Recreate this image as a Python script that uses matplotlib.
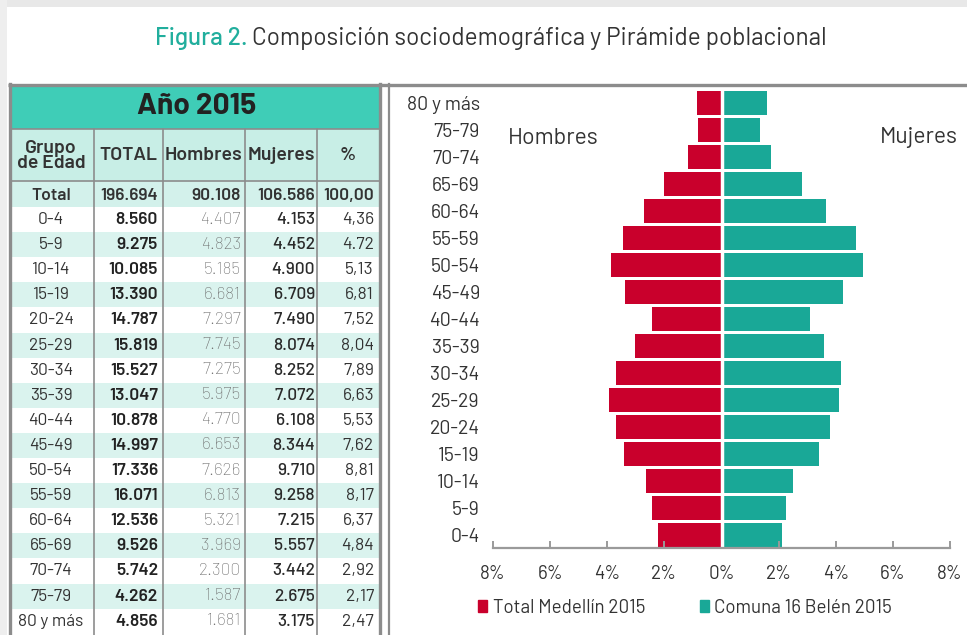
import matplotlib
matplotlib.use('Agg')
import matplotlib.pyplot as plt
from matplotlib.patches import Rectangle, Patch

plt.rcParams['font.family'] = ['Barlow', 'Barlow Semi Condensed', 'DejaVu Sans']

# datos de la tabla
grupos = ['0-4', '5-9', '10-14', '15-19', '20-24', '25-29', '30-34', '35-39', '40-44',
          '45-49', '50-54', '55-59', '60-64', '65-69', '70-74', '75-79', '80 y más']
total = [8560, 9275, 10085, 13390, 14787, 15819, 15527, 13047, 10878,
         14997, 17336, 16071, 12536, 9526, 5742, 4262, 4856]
hombres = [4407, 4823, 5185, 6681, 7297, 7745, 7275, 5975, 4770,
           6653, 7626, 6813, 5321, 3969, 2300, 1587, 1681]
mujeres = [4153, 4452, 4900, 6709, 7490, 8074, 8252, 7072, 6108,
           8344, 9710, 9258, 7215, 5557, 3442, 2675, 3175]
pct = ['4,36', '4.72', '5,13', '6,81', '7,52', '8,04', '7,89', '6,63', '5,53',
       '7,62', '8,81', '8,17', '6,37', '4,84', '2,92', '2,17', '2,47']
fila_total = ['Total', '196.694', '90.108', '106.586', '100,00']
encabezados = ['Grupo\nde Edad', 'TOTAL', 'Hombres', 'Mujeres', '%']

# datos de la pirámide (% del total)
pir_medellin = [2.24, 2.45, 2.64, 3.40, 3.71, 3.94, 3.70, 3.04, 2.43,
                3.38, 3.88, 3.46, 2.71, 2.02, 1.17, 0.81, 0.85]
pir_belen = [2.11, 2.26, 2.49, 3.41, 3.81, 4.10, 4.20, 3.60, 3.11,
             4.24, 4.94, 4.71, 3.67, 2.83, 1.75, 1.36, 1.61]
xticks = [-8, -6, -4, -2, 0, 2, 4, 6, 8]

ROJO = '#c9002c'
VERDE = '#19a897'
TEAL = '#3fcdb7'
GRIS = '#8c8c8c'
TXT = '#333333'


def fmt(v):
    return f'{v:,}'.replace(',', '.')


fig = plt.figure(figsize=(9.67, 6.35), dpi=100)
bg = fig.add_axes([0, 0, 1, 1], zorder=0)
bg.set_xlim(0, 967)
bg.set_ylim(635, 0)
bg.axis('off')

# marco
bg.add_patch(Rectangle((0, 0), 967, 7, color='#e8e8e8', lw=0))
bg.add_patch(Rectangle((0, 0), 7, 635, color='#eeeeee', lw=0))
bg.plot([8, 967], [84.5, 84.5], color=GRIS, lw=2.4, solid_capstyle='butt')
bg.plot([9.5, 9.5], [84, 635], color=GRIS, lw=2.4)
bg.plot([380, 380], [84, 635], color=GRIS, lw=2.4)
bg.plot([389, 389], [84, 635], color=GRIS, lw=1.6)

# titulo
t1 = bg.text(155, 45, 'Figura 2.', color='#21ae9d', fontsize=17.5, weight='medium', va='baseline')
bg.annotate('Composición sociodemográfica y Pirámide poblacional', xy=(1, 0), xycoords=t1,
            xytext=(3.5, 0), textcoords='offset points', va='bottom', ha='left',
            fontsize=17.5, color=TXT)

# tabla
bg.add_patch(Rectangle((11, 86), 368, 43, color=TEAL, lw=0))
bg.text(197, 107, 'Año 2015', ha='center', va='center', fontsize=21.5, weight='bold', color='#222222')
bg.add_patch(Rectangle((11, 129), 368, 52, color='#c8eee6', lw=0))
bg.add_patch(Rectangle((11, 181), 368, 26, color='#d3f1eb', lw=0))
h = 25.1
y0 = 207
for i in range(len(grupos)):
    if i % 2 == 1:
        bg.add_patch(Rectangle((11, y0 + i * h), 368, h, color='#daf3ee', lw=0))

bg.plot([11, 379], [129, 129], color=GRIS, lw=1.2)
bg.plot([11, 379], [181, 181], color=GRIS, lw=1.2)
for xc in [94, 163, 245, 317]:
    bg.plot([xc, xc], [129, 635], color=GRIS, lw=1.2)

centros = [51, 128, 204, 281, 348]
for c, e in zip(centros, encabezados):
    bg.text(c, 156, e, ha='center', va='center', fontsize=14, weight='semibold', color=TXT,
            linespacing=0.9)

derechas = [158, 241, 315, 374]
bg.text(centros[0], 195, fila_total[0], ha='center', va='center', fontsize=12.5, weight='semibold', color=TXT)
for x, v in zip(derechas, fila_total[1:]):
    bg.text(x, 195, v, ha='right', va='center', fontsize=12.5, weight='semibold', color=TXT)

for i, g in enumerate(grupos):
    yc = y0 + i * h + h / 2
    bg.text(centros[0], yc, g, ha='center', va='center', fontsize=12.5, color=TXT)
    bg.text(derechas[0], yc, fmt(total[i]), ha='right', va='center', fontsize=12.5,
            weight='semibold', color='#222222')
    bg.text(derechas[1], yc, fmt(hombres[i]), ha='right', va='center', fontsize=12.5,
            weight='light', color='#6a6a6a')
    bg.text(derechas[2], yc, fmt(mujeres[i]), ha='right', va='center', fontsize=12.5,
            weight='medium', color='#2a2a2a')
    bg.text(derechas[3], yc, pct[i], ha='right', va='center', fontsize=12.5, color=TXT)

# piramide
ax = fig.add_axes([493 / 967, 1 - 548 / 635, 457 / 967, (548 - 89.5) / 635], zorder=2)
ax.patch.set_alpha(0)
pos = list(range(len(grupos)))
ax.barh(pos, [-v for v in pir_medellin], height=0.9, color=ROJO)
ax.barh(pos, pir_belen, height=0.9, color=VERDE)
ax.axvline(0, color='white', lw=2.5)
ax.set_xlim(-8, 8)
ax.set_ylim(-0.48, 16.5)
ax.set_xticks(xticks)
ax.set_xticklabels([f'{abs(t)}%' for t in xticks])
ax.set_yticks(pos)
ax.set_yticklabels(grupos)
for s in ['top', 'right', 'left']:
    ax.spines[s].set_visible(False)
ax.spines['bottom'].set_color('#9a9a9a')
ax.spines['bottom'].set_linewidth(1.6)
ax.tick_params(axis='x', direction='in', length=5, width=1.4, color='#9a9a9a',
               labelsize=13.5, labelcolor=TXT, pad=12)
ax.tick_params(axis='y', length=0, labelsize=14, labelcolor=TXT, pad=9.5)

bg.text(508, 138, 'Hombres', fontsize=16.5, color=TXT, va='center')
bg.text(958, 138, 'Mujeres', fontsize=16.5, color=TXT, va='center', ha='right')

handles = [Patch(color=ROJO, label='Total Medellín 2015'),
           Patch(color=VERDE, label='Comuna 16 Belén 2015')]
fig.legend(handles=handles, loc='center', bbox_to_anchor=(685 / 967, 1 - 608 / 635), ncol=2,
           frameon=False, fontsize=13.5, handlelength=0.5, handleheight=0.6,
           handletextpad=0.3, columnspacing=2.9, labelcolor=TXT)

fig.savefig('out.png', dpi=100)
